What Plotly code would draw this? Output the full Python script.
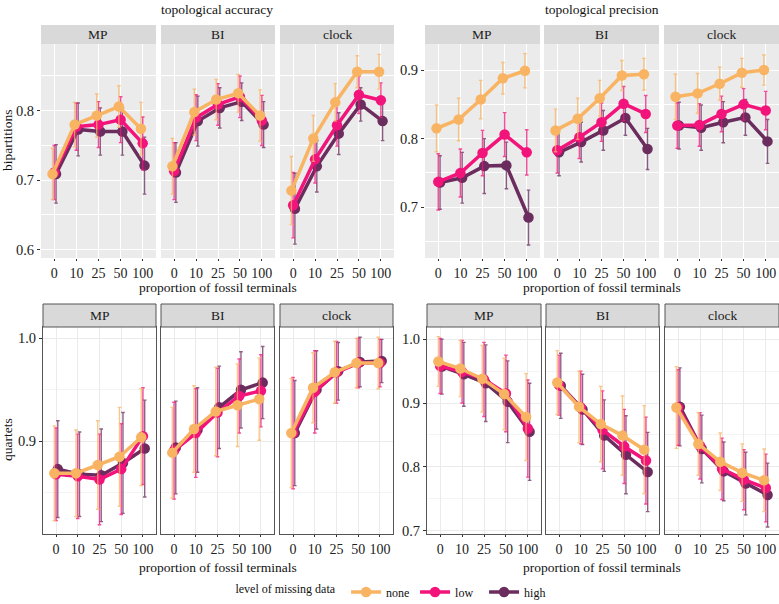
import plotly.graph_objects as go

# ---------------- data ----------------
categories = ["0", "10", "25", "50", "100"]
methods = ["MP", "BI", "clock"]
levels = ["none", "low", "high"]
level_colors = {"none": "#F8B462", "low": "#F2137B", "high": "#6B2C5E"}
level_err_colors = {"none": "rgba(248,180,98,0.75)", "low": "rgba(242,19,123,0.75)", "high": "rgba(107,44,94,0.75)"}

# topological accuracy - bipartitions
acc_bip_MP_none = [0.709, 0.780, 0.793, 0.806, 0.774]
acc_bip_MP_none_sd = [0.037, 0.032, 0.031, 0.030, 0.038]
acc_bip_MP_low = [0.711, 0.777, 0.780, 0.787, 0.753]
acc_bip_MP_low_sd = [0.039, 0.034, 0.033, 0.033, 0.038]
acc_bip_MP_high = [0.709, 0.773, 0.770, 0.770, 0.721]
acc_bip_MP_high_sd = [0.042, 0.038, 0.034, 0.034, 0.041]
acc_bip_BI_none = [0.720, 0.798, 0.816, 0.825, 0.793]
acc_bip_BI_none_sd = [0.040, 0.033, 0.029, 0.027, 0.037]
acc_bip_BI_low = [0.713, 0.790, 0.809, 0.820, 0.786]
acc_bip_BI_low_sd = [0.041, 0.033, 0.030, 0.030, 0.036]
acc_bip_BI_high = [0.711, 0.785, 0.804, 0.813, 0.780]
acc_bip_BI_high_sd = [0.043, 0.036, 0.029, 0.027, 0.033]
acc_bip_clock_none = [0.685, 0.760, 0.812, 0.856, 0.856]
acc_bip_clock_none_sd = [0.049, 0.033, 0.027, 0.023, 0.025]
acc_bip_clock_low = [0.664, 0.730, 0.779, 0.823, 0.815]
acc_bip_clock_low_sd = [0.047, 0.034, 0.030, 0.027, 0.025]
acc_bip_clock_high = [0.659, 0.720, 0.767, 0.809, 0.785]
acc_bip_clock_high_sd = [0.051, 0.037, 0.030, 0.024, 0.028]

# topological precision - bipartitions
prec_bip_MP_none = [0.815, 0.828, 0.857, 0.888, 0.899]
prec_bip_MP_none_sd = [0.034, 0.031, 0.028, 0.023, 0.025]
prec_bip_MP_low = [0.737, 0.750, 0.779, 0.806, 0.780]
prec_bip_MP_low_sd = [0.041, 0.035, 0.033, 0.032, 0.033]
prec_bip_MP_high = [0.736, 0.743, 0.760, 0.761, 0.685]
prec_bip_MP_high_sd = [0.039, 0.037, 0.040, 0.034, 0.040]
prec_bip_BI_none = [0.812, 0.829, 0.859, 0.892, 0.894]
prec_bip_BI_none_sd = [0.031, 0.030, 0.026, 0.022, 0.023]
prec_bip_BI_low = [0.783, 0.802, 0.824, 0.851, 0.836]
prec_bip_BI_low_sd = [0.033, 0.031, 0.028, 0.025, 0.027]
prec_bip_BI_high = [0.780, 0.795, 0.812, 0.830, 0.785]
prec_bip_BI_high_sd = [0.034, 0.029, 0.029, 0.025, 0.030]
prec_bip_clock_none = [0.861, 0.866, 0.880, 0.896, 0.900]
prec_bip_clock_none_sd = [0.033, 0.029, 0.024, 0.021, 0.022]
prec_bip_clock_low = [0.819, 0.820, 0.836, 0.850, 0.841]
prec_bip_clock_low_sd = [0.033, 0.031, 0.026, 0.023, 0.028]
prec_bip_clock_high = [0.819, 0.816, 0.824, 0.831, 0.796]
prec_bip_clock_high_sd = [0.034, 0.033, 0.030, 0.026, 0.032]

# topological accuracy - quartets
acc_quart_MP_none = [0.869, 0.869, 0.877, 0.885, 0.904]
acc_quart_MP_none_sd = [0.046, 0.042, 0.043, 0.048, 0.047]
acc_quart_MP_low = [0.868, 0.866, 0.863, 0.873, 0.905]
acc_quart_MP_low_sd = [0.045, 0.041, 0.044, 0.044, 0.047]
acc_quart_MP_high = [0.873, 0.868, 0.867, 0.879, 0.893]
acc_quart_MP_high_sd = [0.047, 0.041, 0.045, 0.049, 0.047]
acc_quart_BI_none = [0.889, 0.912, 0.929, 0.935, 0.941]
acc_quart_BI_none_sd = [0.044, 0.042, 0.043, 0.040, 0.040]
acc_quart_BI_low = [0.891, 0.908, 0.928, 0.944, 0.949]
acc_quart_BI_low_sd = [0.047, 0.043, 0.043, 0.036, 0.035]
acc_quart_BI_high = [0.894, 0.911, 0.933, 0.950, 0.957]
acc_quart_BI_high_sd = [0.045, 0.041, 0.040, 0.037, 0.035]
acc_quart_clock_none = [0.908, 0.952, 0.967, 0.976, 0.976]
acc_quart_clock_none_sd = [0.053, 0.034, 0.030, 0.024, 0.025]
acc_quart_clock_low = [0.908, 0.948, 0.967, 0.976, 0.976]
acc_quart_clock_low_sd = [0.054, 0.040, 0.030, 0.024, 0.023]
acc_quart_clock_high = [0.908, 0.950, 0.968, 0.977, 0.978]
acc_quart_clock_high_sd = [0.051, 0.038, 0.028, 0.024, 0.021]

# topological precision - quartets
prec_quart_MP_none = [0.965, 0.954, 0.938, 0.914, 0.878]
prec_quart_MP_none_sd = [0.039, 0.044, 0.052, 0.056, 0.068]
prec_quart_MP_low = [0.958, 0.949, 0.937, 0.915, 0.860]
prec_quart_MP_low_sd = [0.043, 0.049, 0.058, 0.060, 0.076]
prec_quart_MP_high = [0.957, 0.945, 0.931, 0.902, 0.855]
prec_quart_MP_high_sd = [0.043, 0.050, 0.060, 0.064, 0.076]
prec_quart_BI_none = [0.932, 0.894, 0.867, 0.849, 0.827]
prec_quart_BI_none_sd = [0.050, 0.056, 0.059, 0.062, 0.069]
prec_quart_BI_low = [0.928, 0.893, 0.858, 0.832, 0.810]
prec_quart_BI_low_sd = [0.047, 0.057, 0.061, 0.058, 0.068]
prec_quart_BI_high = [0.927, 0.890, 0.849, 0.819, 0.792]
prec_quart_BI_high_sd = [0.051, 0.055, 0.056, 0.061, 0.062]
prec_quart_clock_none = [0.893, 0.836, 0.808, 0.791, 0.779]
prec_quart_clock_none_sd = [0.064, 0.049, 0.045, 0.045, 0.049]
prec_quart_clock_low = [0.893, 0.833, 0.797, 0.780, 0.767]
prec_quart_clock_low_sd = [0.059, 0.052, 0.048, 0.047, 0.053]
prec_quart_clock_high = [0.894, 0.828, 0.793, 0.774, 0.756]
prec_quart_clock_high_sd = [0.061, 0.053, 0.046, 0.049, 0.050]

groups = ["acc_bip", "prec_bip", "acc_quart", "prec_quart"]
group_yrange = {"acc_bip": [0.588, 0.896], "prec_bip": [0.626, 0.938],
                "acc_quart": [0.81, 1.011], "prec_quart": [0.695, 1.019]}

# ---------------- layout geometry (pixels) ----------------
W, H = 779, 604
FONT = "Liberation Serif"
panel_x = {
    "acc_bip": [(41, 156), (161, 275), (280, 394)],
    "prec_bip": [(425, 540), (544, 659), (664, 779)],
    "acc_quart": [(43, 156), (161, 274), (280, 393)],
    "prec_quart": [(427, 541), (546, 659), (665, 779)],
}
panel_y = {"acc_bip": (44, 258), "prec_bip": (44, 258),
           "acc_quart": (327, 534), "prec_quart": (327, 534)}
strip_y = {"acc_bip": (25, 44), "prec_bip": (25, 44),
           "acc_quart": (304, 327), "prec_quart": (304, 327)}

def fx(px):
    return px / W

def fy(py):
    return 1 - py / H

dodge = {"none": -0.08, "low": 0.0, "high": 0.08}
draw_order = ["high", "low", "none"]
legend_rank = {"none": 1, "low": 2, "high": 3}

fig = go.Figure()
shapes = []
annotations = []
layout_axes = {}

k = 0
for g in groups:
    top = g.endswith("bip")
    for mi, m in enumerate(methods):
        k += 1
        xa = "x" if k == 1 else f"x{k}"
        ya = "y" if k == 1 else f"y{k}"
        xname = "xaxis" if k == 1 else f"xaxis{k}"
        yname = "yaxis" if k == 1 else f"yaxis{k}"
        x0, x1 = panel_x[g][mi]
        y0, y1 = panel_y[g]
        grid_major = "white" if top else "#EBEBEB"
        grid_minor = "white" if top else "#F4F4F4"
        layout_axes[xname] = dict(
            domain=[fx(x0), fx(x1)], anchor=ya, range=[0.4, 5.6],
            tickmode="array", tickvals=[1, 2, 3, 4, 5], ticktext=categories,
            showgrid=True, gridcolor=grid_major, gridwidth=1.1, zeroline=False,
            ticks="outside", ticklen=2, tickcolor="#333333", tickwidth=1,
            tickfont=dict(family=FONT, size=14, color="#222222"),
            showline=not top, linecolor="#555555", linewidth=1, mirror=True,
        )
        layout_axes[yname] = dict(
            domain=[fy(y1), fy(y0)], anchor=xa, range=group_yrange[g],
            dtick=0.1, tick0=0, tickformat=".1f",
            showgrid=True, gridcolor=grid_major, gridwidth=1.1, zeroline=False,
            minor=dict(dtick=0.05, tick0=0, showgrid=True, gridcolor=grid_minor, gridwidth=0.6),
            ticks="outside" if mi == 0 else "", ticklen=3, tickcolor="#333333", tickwidth=1,
            showticklabels=(mi == 0),
            tickfont=dict(family=FONT, size=14.5, color="#222222"),
            showline=not top, linecolor="#555555", linewidth=1, mirror=True,
        )
        if top:
            shapes.append(dict(type="rect", xref="paper", yref="paper", layer="below",
                               x0=fx(x0), x1=fx(x1), y0=fy(y1), y1=fy(y0),
                               fillcolor="#EBEBEB", line=dict(width=0)))
        sy0, sy1 = strip_y[g]
        shapes.append(dict(type="rect", xref="paper", yref="paper", layer="above",
                           x0=fx(x0), x1=fx(x1), y0=fy(sy1), y1=fy(sy0),
                           fillcolor="#D9D9D9",
                           line=dict(width=0 if top else 1, color="#555555")))
        annotations.append(dict(text=m, xref="paper", yref="paper", showarrow=False,
                                x=fx((x0 + x1) / 2), y=fy((sy0 + sy1) / 2),
                                xanchor="center", yanchor="middle",
                                font=dict(family=FONT, size=13.5, color="#1A1A1A")))
        for lv in draw_order:
            means = globals()[f"{g}_{m}_{lv}"]
            sds = globals()[f"{g}_{m}_{lv}_sd"]
            xs = [i + 1 + dodge[lv] for i in range(len(categories))]
            fig.add_trace(go.Scatter(
                x=xs, y=means, xaxis=xa, yaxis=ya, mode="lines+markers",
                name=lv, legendgroup=lv, legendrank=legend_rank[lv],
                showlegend=(k == 1),
                line=dict(color=level_colors[lv], width=3.5),
                marker=dict(color=level_colors[lv], size=10.5),
                error_y=dict(type="data", array=sds, visible=True,
                             color=level_err_colors[lv], thickness=1.4, width=1.8),
                customdata=categories,
                hovertemplate="%{customdata}: %{y:.3f}<extra>" + lv + "</extra>",
            ))

# group titles and axis titles
def label(text, x, y, angle=0):
    return dict(text=text, x=fx(x), y=fy(y), xref="paper", yref="paper", textangle=angle,
                showarrow=False, xanchor="center", yanchor="middle",
                font=dict(family=FONT, size=13.5, color="#111"))

annotations += [
    label("topological accuracy", 217, 9),
    label("topological precision", 602, 9),
    label("proportion of fossil terminals", 218, 287),
    label("proportion of fossil terminals", 602, 287),
    label("proportion of fossil terminals", 218, 567),
    label("proportion of fossil terminals", 602, 567),
    label("bipartitions", 8, 140, -90),
    label("quartets", 8, 440, -90),
]

fig.update_layout(
    width=W, height=H, margin=dict(l=0, r=0, t=0, b=0, autoexpand=False),
    paper_bgcolor="white", plot_bgcolor="rgba(0,0,0,0)",
    font=dict(family=FONT, size=12, color="#111"),
    shapes=shapes, annotations=annotations,
    showlegend=True,
    legend=dict(orientation="h", x=0.505, xanchor="center", y=fy(592), yanchor="middle",
                title=dict(text="level of missing data ", side="left",
                           font=dict(family=FONT, size=12)),
                font=dict(family=FONT, size=12), itemwidth=30,
                entrywidth=24, tracegroupgap=0,
                bgcolor="rgba(0,0,0,0)"),
    **layout_axes,
)

fig.write_html("out.html", config={"displayModeBar": False},
               post_script="document.body.style.margin='0px';document.body.style.overflow='hidden';")
